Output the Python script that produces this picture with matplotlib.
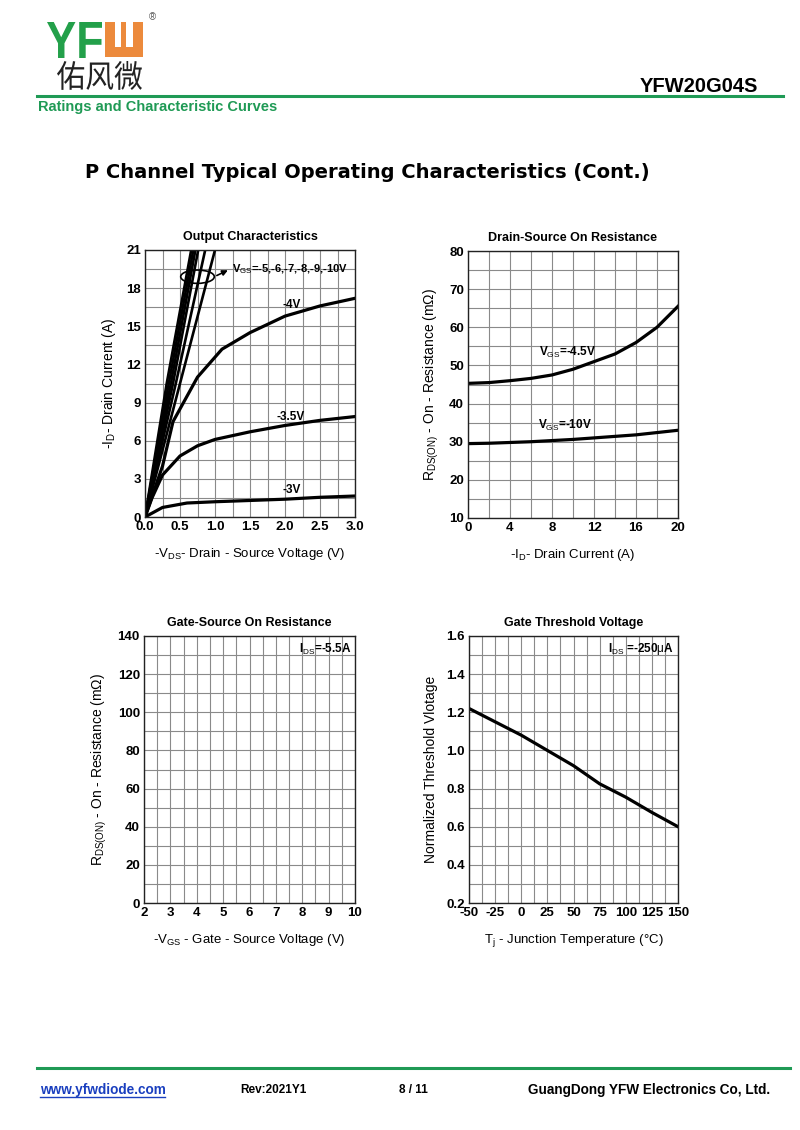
import matplotlib
matplotlib.use("Agg")
import matplotlib.pyplot as plt
from matplotlib.patches import Ellipse, Rectangle, PathPatch
from matplotlib.lines import Line2D
from matplotlib.textpath import TextPath
from matplotlib.font_manager import FontProperties
from matplotlib.transforms import Affine2D

plt.rcParams['font.family'] = ['Liberation Sans', 'DejaVu Sans']
plt.rcParams['mathtext.fontset'] = 'custom'
plt.rcParams['mathtext.rm'] = 'Liberation Sans'
plt.rcParams['mathtext.it'] = 'Liberation Sans'
plt.rcParams['mathtext.bf'] = 'Liberation Sans:bold'
plt.rcParams['axes.unicode_minus'] = False

# ---- data ----
# output characteristics (-Vds, -Id) per Vgs
vds_3 = [0, 0.25, 0.6, 1.0, 1.5, 2.0, 2.5, 3.0]
id_3 = [0, 0.75, 1.1, 1.2, 1.3, 1.4, 1.55, 1.65]
vds_35 = [0, 0.1, 0.25, 0.5, 0.75, 1.0, 1.5, 2.0, 2.5, 3.0]
id_35 = [0, 1.5, 3.3, 4.8, 5.6, 6.1, 6.7, 7.2, 7.6, 7.9]
vds_4 = [0, 0.25, 0.4, 0.75, 1.1, 1.5, 2.0, 2.5, 3.0]
id_4 = [0, 4.0, 7.5, 11.0, 13.2, 14.5, 15.8, 16.6, 17.2]
# Vgs -5 .. -10 : nearly straight lines, Vds at Id = 0, 10.5, 21 A
vgs_high = ['-5', '-6', '-7', '-8', '-9', '-10']
id_high = [0, 10.5, 21.0]
vds_high = [
    [0, 0.50, 1.00],
    [0, 0.44, 0.86],
    [0, 0.40, 0.76],
    [0, 0.37, 0.72],
    [0, 0.34, 0.69],
    [0, 0.31, 0.66],
]

# on resistance vs drain current
id_r = [0, 2, 4, 6, 8, 10, 12, 14, 16, 18, 20]
r_45 = [45.3, 45.5, 46.0, 46.6, 47.5, 49.0, 51.0, 53.0, 56.0, 60.0, 65.5]
r_10 = [29.5, 29.6, 29.8, 30.0, 30.3, 30.6, 31.0, 31.4, 31.8, 32.4, 33.0]

# threshold vs temperature
tj = [-50, -25, 0, 25, 50, 75, 100, 125, 150]
vth = [1.22, 1.15, 1.08, 1.0, 0.92, 0.825, 0.755, 0.675, 0.6]

W, H = 800, 1130
fig = plt.figure(figsize=(8, 11.3), dpi=100)
green = '#1f9a55'


def fx(x):
    return x / W


def fy(y):
    return 1 - y / H


def axes_px(l, t, r, b):
    return fig.add_axes([fx(l), fy(b), (r - l) / W, (b - t) / H])


def style(ax, xlim, ylim, xmaj, xmin, ymaj, ymin, title, xlabel, ylabel, xfmt=None, yfmt=None):
    ax.set_xlim(*xlim)
    ax.set_ylim(*ylim)
    ax.set_xticks(xmaj)
    ax.set_xticks(xmin, minor=True)
    ax.set_yticks(ymaj)
    ax.set_yticks(ymin, minor=True)
    ax.set_xticklabels([(xfmt % v) if xfmt else '%g' % v for v in xmaj])
    ax.set_yticklabels([(yfmt % v) if yfmt else '%g' % v for v in ymaj])
    ax.grid(True, which='both', color='#8a8a8a', lw=0.8)
    ax.set_axisbelow(True)
    ax.tick_params(which='both', length=0, labelsize=9.5)
    ax.tick_params(axis='x', pad=3)
    ax.tick_params(axis='y', pad=3)
    for lab in ax.get_xticklabels() + ax.get_yticklabels():
        lab.set_fontweight('bold')
    for s in ax.spines.values():
        s.set_linewidth(1.0)
        s.set_color('#222222')
    ax.set_title(title, fontsize=9, fontweight='bold', pad=7)
    ax.set_xlabel(xlabel, fontsize=9.5, labelpad=9)
    ax.set_ylabel(ylabel, fontsize=10, labelpad=6)


def frange(a, b, step):
    out = []
    v = a
    while v <= b + 1e-9:
        out.append(round(v, 6))
        v += step
    return out


def px_text(s, x0, y0, x1, y1, color, weight='bold', family='Liberation Sans'):
    # text drawn as a path and scaled into the pixel box (x0, y0)-(x1, y1)
    tp = TextPath((0, 0), s, size=10, prop=FontProperties(family=family, weight=weight))
    bb = tp.get_extents()
    sx = (x1 - x0) / bb.width
    sy = (y1 - y0) / bb.height
    tr = Affine2D().translate(-bb.x0, -bb.y0).scale(sx / W, sy / H).translate(fx(x0), fy(y1))
    fig.patches.append(PathPatch(tr.transform_path(tp), transform=fig.transFigure,
                                 color=color, lw=0))


# ---- header ----
px_text('YF', 47, 22, 102, 58, '#23a04a')
fig.patches.append(Rectangle((fx(105), fy(57)), 38 / W, 35 / H, transform=fig.transFigure,
                             color='#ec8a3c', lw=0))
for gx0, gx1 in [(115, 121), (126, 133)]:
    fig.patches.append(Rectangle((fx(gx0), fy(47)), (gx1 - gx0) / W, 26 / H,
                                 transform=fig.transFigure, color='white', lw=0))
fig.text(fx(152), fy(17), '®', fontsize=7, color='#555555', ha='center', va='center')
px_text('佑风微', 57, 61, 142, 90, '#222222', weight='normal', family='Noto Sans CJK SC')
fig.text(fx(758), fy(86), 'YFW20G04S', fontsize=14.5, fontweight='bold', ha='right', va='center')
fig.lines.append(Line2D([fx(37), fx(783)], [fy(96), fy(96)], transform=fig.transFigure,
                        color=green, lw=2.2))
fig.text(fx(38), fy(107), 'Ratings and Characteristic Curves', fontsize=10.5, fontweight='bold',
         color=green, ha='left', va='center')
fig.text(fx(85), fy(172), 'P Channel Typical Operating Characteristics (Cont.)',
         fontsize=14, fontweight='bold', ha='left', va='center', family='DejaVu Sans')

# ---- output characteristics ----
ax1 = axes_px(145, 250, 355, 517)
style(ax1, (0, 3), (0, 21), frange(0, 3, 0.5), frange(0, 3, 0.25), frange(0, 21, 3),
      frange(0, 21, 1.5), 'Output Characteristics',
      r'-V$_{\rm DS}$- Drain - Source Voltage (V)', r'-I$_{\rm D}$- Drain Current (A)', '%.1f')
lw = 2.3
ax1.plot(vds_3, id_3, color='black', lw=lw)
ax1.plot(vds_35, id_35, color='black', lw=lw)
ax1.plot(vds_4, id_4, color='black', lw=lw)
for vv in vds_high:
    ax1.plot(vv, id_high, color='black', lw=1.9)
ax1.add_patch(Ellipse((0.75, 18.9), 0.48, 1.05, fill=False, color='black', lw=1.2))
ax1.annotate('', xy=(1.22, 19.5), xytext=(0.99, 18.9),
             arrowprops=dict(arrowstyle='-|>', color='black', lw=1.2, mutation_scale=8))
ax1.text(1.25, 19.5, r'V$_{\rm GS}$=-5,-6,-7,-8,-9,-10V', fontsize=8, fontweight='bold', va='center')
ax1.text(2.1, 16.7, '-4V', fontsize=8.5, fontweight='bold', ha='center', va='center')
ax1.text(2.08, 7.9, '-3.5V', fontsize=8.5, fontweight='bold', ha='center', va='center')
ax1.text(2.1, 2.1, '-3V', fontsize=8.5, fontweight='bold', ha='center', va='center')

# ---- drain-source on resistance ----
ax2 = axes_px(468, 251, 678, 518)
style(ax2, (0, 20), (10, 80), frange(0, 20, 4), frange(0, 20, 2), frange(10, 80, 10),
      frange(10, 80, 5), 'Drain-Source On Resistance',
      r'-I$_{\rm D}$- Drain Current (A)', r'R$_{\rm DS(ON)}$ - On - Resistance (m$\Omega$)')
ax2.plot(id_r, r_45, color='black', lw=lw)
ax2.plot(id_r, r_10, color='black', lw=lw)
ax2.text(6.8, 53.5, r'V$_{\rm GS}$=-4.5V', fontsize=8.5, fontweight='bold', va='center')
ax2.text(6.7, 34.2, r'V$_{\rm GS}$=-10V', fontsize=8.5, fontweight='bold', va='center')

# ---- gate-source on resistance ----
ax3 = axes_px(144, 636, 355, 903)
style(ax3, (2, 10), (0, 140), frange(2, 10, 1), frange(2, 10, 0.5), frange(0, 140, 20),
      frange(0, 140, 10), 'Gate-Source On Resistance',
      r'-V$_{\rm GS}$ - Gate - Source Voltage (V)', r'R$_{\rm DS(ON)}$ - On - Resistance (m$\Omega$)')
ax3.text(9.85, 133, r'I$_{\rm DS}$=-5.5A', fontsize=8.5, fontweight='bold', ha='right', va='center')

# ---- gate threshold voltage ----
ax4 = axes_px(469, 636, 678, 903)
style(ax4, (-50, 150), (0.2, 1.6), frange(-50, 150, 25), frange(-50, 150, 12.5),
      frange(0.2, 1.6, 0.2), frange(0.2, 1.6, 0.1), 'Gate Threshold Voltage',
      r'T$_{\rm j}$ - Junction Temperature (°C)', 'Normalized Threshold Vlotage', yfmt='%.1f')
ax4.plot(tj, vth, color='black', lw=lw)
ax4.text(146, 1.53, r'I$_{\rm DS}$ =-250$\mu$A', fontsize=8.5, fontweight='bold', ha='right', va='center')

# ---- footer ----
fig.lines.append(Line2D([fx(37), fx(790)], [fy(1068), fy(1068)], transform=fig.transFigure,
                        color=green, lw=2.2))
fig.text(fx(40), fy(1090), 'www.yfwdiode.com', fontsize=9.8, fontweight='bold',
         color='#1a3fbf', ha='left', va='center')
fig.lines.append(Line2D([fx(40), fx(165)], [fy(1097), fy(1097)], transform=fig.transFigure,
                        color='#1a3fbf', lw=1))
fig.text(fx(240), fy(1090), 'Rev:2021Y1', fontsize=8.5, fontweight='bold', ha='left', va='center')
fig.text(fx(413), fy(1090), '8 / 11', fontsize=8.5, fontweight='bold', ha='center', va='center')
fig.text(fx(770), fy(1090), 'GuangDong YFW Electronics Co, Ltd.', fontsize=9.8, fontweight='bold',
         ha='right', va='center')

fig.savefig('out.png', dpi=100)
